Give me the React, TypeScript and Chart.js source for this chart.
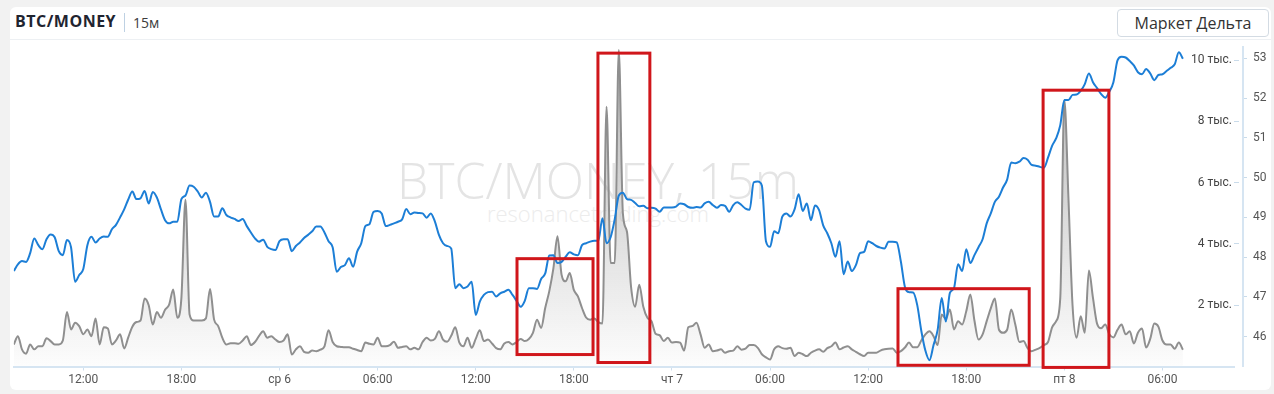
import React, { useEffect, useRef } from 'react';
import { Chart, registerables } from 'chart.js';

Chart.register(...registerables);

// 15-minute candles, Tue 07:45 -> Fri 07:15 (287 points)
const priceValues = [
  47.65, 47.82, 47.90, 47.88, 48.10, 48.47, 48.30, 48.20, 48.45, 48.57,
  48.50, 48.15, 48.05, 48.43, 48.25, 47.38, 47.55, 47.70, 48.30, 48.51,
  48.37, 48.47, 48.52, 48.51, 48.70, 48.81, 49.00, 49.20, 49.45, 49.65,
  49.46, 49.48, 49.66, 49.35, 49.64, 49.50, 49.20, 48.93, 48.85, 48.89,
  48.89, 49.46, 49.55, 49.80, 49.77, 49.65, 49.50, 49.62, 49.39, 49.02,
  49.02, 49.23, 49.06, 49.00, 48.96, 48.91, 48.96, 48.78, 48.62, 48.47,
  48.39, 48.44, 48.26, 48.20, 48.18, 48.40, 48.45, 48.45, 48.15, 48.28,
  48.37, 48.48, 48.56, 48.65, 48.77, 48.77, 48.62, 48.40, 48.25, 47.63,
  47.75, 47.80, 47.97, 47.76, 48.14, 48.35, 48.78, 48.83, 49.14, 49.16,
  49.10, 48.78, 48.81, 48.85, 48.89, 48.95, 49.21, 49.08, 49.12, 49.11,
  49.10, 48.99, 49.10, 48.90, 48.56, 48.35, 48.28, 48.22, 47.22, 47.32,
  47.22, 47.26, 47.38, 46.55, 46.88, 47.05, 47.12, 47.13, 47.01, 47.09,
  47.13, 47.18, 47.05, 46.90, 46.75, 46.90, 47.22, 47.22, 47.20, 47.45,
  47.59, 48.04, 48.05, 47.85, 47.88, 48.01, 48.12, 48.07, 48.05, 48.30,
  48.35, 48.39, 48.41, 48.41, 48.98, 48.35, 48.50, 48.95, 49.55, 49.62,
  49.46, 49.44, 49.36, 49.28, 49.29, 49.23, 49.24, 49.22, 49.14, 49.25,
  49.25, 49.25, 49.27, 49.35, 49.33, 49.26, 49.24, 49.26, 49.25, 49.35,
  49.39, 49.31, 49.24, 49.31, 49.29, 49.14, 49.31, 49.38, 49.31, 49.22,
  49.19, 49.88, 49.90, 49.80, 48.40, 48.26, 48.65, 48.60, 49.02, 49.10,
  49.02, 49.20, 49.58, 49.16, 49.35, 48.93, 49.30, 49.18, 48.80, 48.60,
  48.35, 48.01, 48.40, 47.57, 47.89, 47.65, 47.80, 48.10, 48.13, 48.40,
  48.35, 48.28, 48.24, 48.22, 48.39, 48.39, 48.37, 47.89, 47.25, 47.12,
  47.11, 46.80, 46.15, 45.65, 45.41, 45.79, 46.17, 46.97, 46.38, 47.10,
  47.22, 47.82, 47.65, 48.20, 47.85, 48.05, 48.25, 48.45, 48.85, 49.10,
  49.39, 49.52, 49.75, 49.95, 50.38, 50.36, 50.40, 50.49, 50.45, 50.32,
  50.30, 50.27, 50.25, 50.50, 50.80, 50.99, 51.32, 51.95, 51.95, 52.08,
  52.09, 52.18, 52.35, 52.62, 52.40, 52.25, 52.10, 52.01, 52.16, 52.40,
  52.95, 53.04, 53.02, 52.93, 52.82, 52.65, 52.60, 52.73, 52.62, 52.45,
  52.58, 52.60, 52.68, 52.76, 52.85, 53.15, 52.99,
];

// volume, thousands
const volumeValues = [
  0.72, 0.99, 0.56, 0.42, 0.72, 0.56, 0.66, 0.66, 0.92, 0.83,
  0.72, 0.72, 0.85, 1.78, 1.21, 1.43, 1.32, 1.05, 1.21, 0.99,
  1.57, 0.72, 1.28, 1.24, 0.72, 0.85, 1.05, 0.59, 0.95, 1.30,
  1.45, 1.50, 2.22, 2.00, 1.37, 1.78, 1.59, 1.85, 2.02, 2.51,
  1.59, 2.24, 5.44, 1.70, 1.50, 1.50, 1.50, 1.57, 2.53, 1.53,
  1.32, 0.94, 0.72, 0.76, 0.76, 0.74, 0.85, 0.99, 0.70, 0.80,
  1.00, 1.15, 0.94, 0.99, 0.88, 0.80, 0.85, 1.05, 0.39, 0.56,
  0.66, 0.48, 0.45, 0.52, 0.50, 0.55, 0.66, 1.18, 0.80, 0.66,
  0.64, 0.63, 0.63, 0.58, 0.54, 0.50, 0.78, 0.74, 0.72, 0.94,
  0.66, 0.66, 0.70, 0.81, 0.61, 0.64, 0.66, 0.56, 0.61, 0.56,
  0.80, 0.94, 0.85, 0.90, 1.15, 0.88, 0.81, 1.00, 1.28, 0.78,
  0.66, 0.94, 0.61, 0.90, 1.18, 0.83, 0.88, 0.75, 0.60, 0.56,
  0.75, 0.80, 0.72, 0.80, 0.90, 0.83, 0.90, 1.10, 1.53, 1.26,
  1.91, 2.46, 3.20, 4.25, 3.00, 2.78, 3.05, 2.50, 2.29, 1.91,
  1.60, 1.53, 1.57, 1.45, 1.40, 8.48, 3.38, 3.38, 10.33, 5.00,
  4.40, 2.60, 1.95, 2.67, 1.95, 1.59, 1.48, 1.07, 1.02, 0.83,
  0.94, 0.78, 0.80, 0.78, 0.52, 1.28, 1.32, 1.43, 1.05, 0.61,
  0.72, 0.50, 0.52, 0.56, 0.45, 0.50, 0.52, 0.66, 0.55, 0.58,
  0.70, 0.70, 0.61, 0.40, 0.30, 0.23, 0.56, 0.66, 0.60, 0.58,
  0.61, 0.34, 0.45, 0.40, 0.34, 0.45, 0.52, 0.56, 0.48, 0.60,
  0.66, 0.78, 0.56, 0.62, 0.66, 0.56, 0.48, 0.40, 0.34, 0.45,
  0.45, 0.45, 0.52, 0.56, 0.58, 0.59, 0.45, 0.50, 0.62, 0.78,
  0.63, 0.63, 0.85, 1.05, 1.15, 0.99, 0.70, 1.70, 1.55, 1.86,
  1.21, 1.48, 1.37, 1.80, 2.35, 1.50, 0.88, 1.05, 1.48, 1.90,
  2.22, 1.20, 1.10, 1.20, 1.86, 1.37, 0.80, 0.83, 0.60, 0.50,
  0.55, 0.61, 0.70, 0.80, 1.28, 1.48, 2.24, 8.70, 5.50, 2.00,
  0.94, 1.64, 1.10, 3.13, 2.24, 1.40, 1.25, 1.37, 1.05, 0.95,
  1.20, 1.37, 1.05, 1.15, 0.75, 1.10, 1.24, 0.62, 0.90, 1.40,
  1.30, 0.85, 0.72, 0.72, 0.58, 0.78, 0.55,
];

const xTickIndex = [17, 41, 65, 89, 113, 137, 161, 185, 209, 233, 257, 281];
const xTickLabels = ['12:00', '18:00', 'ср 6', '06:00', '12:00', '18:00', 'чт 7', '06:00', '12:00', '18:00', 'пт 8', '06:00'];
const priceTicks = [46, 47, 48, 49, 50, 51, 52, 53];
const volumeTicks = [2, 4, 6, 8, 10];
const volumeTickLabels = ['2 тыс.', '4 тыс.', '6 тыс.', '8 тыс.', '10 тыс.'];

// highlighted zones (x in candle index, y in volume thousands)
const boxStart = [123.1, 142.9, 216.3, 251.8];
const boxEnd = [141.7, 155.6, 248.4, 267.9];
const boxTop = [3.52, 10.23, 2.54, 9.02];
const boxBottom = [0.39, 0.13, 0.04, -0.03];

const boxesPlugin = {
  id: 'zoneBoxes',
  afterDatasetsDraw(chart: any) {
    const { ctx, scales } = chart;
    const x = scales.x;
    const y1 = scales.y1;
    ctx.save();
    ctx.strokeStyle = '#d0161b';
    ctx.lineWidth = 3;
    for (let k = 0; k < boxStart.length; k++) {
      const l = x.getPixelForValue(boxStart[k]);
      const r = x.getPixelForValue(boxEnd[k]);
      const t = y1.getPixelForValue(boxTop[k]);
      const b = y1.getPixelForValue(boxBottom[k]);
      ctx.strokeRect(l, t, r - l, b - t);
    }
    ctx.restore();
  },
};

const noPad = (s: any) => {
  s.paddingTop = 0;
  s.paddingBottom = 0;
  s.paddingLeft = 0;
  s.paddingRight = 0;
};

export default function App() {
  const ref = useRef<HTMLCanvasElement>(null);

  useEffect(() => {
    const canvas = ref.current;
    if (!canvas) return;
    const fillGrad = (c: any) => {
      const { ctx, chartArea } = c.chart;
      if (!chartArea) return 'rgba(140,140,140,0.2)';
      const g = ctx.createLinearGradient(0, chartArea.top, 0, chartArea.bottom);
      g.addColorStop(0, 'rgba(135,135,135,0.62)');
      g.addColorStop(1, 'rgba(135,135,135,0.02)');
      return g;
    };
    const chart = new Chart(canvas, {
      type: 'line',
      data: {
        datasets: [
          {
            label: 'BTC/MONEY',
            data: priceValues.map((v, i) => ({ x: i, y: v })),
            yAxisID: 'y',
            borderColor: '#1c7ed6',
            borderWidth: 2,
            pointRadius: 0,
            cubicInterpolationMode: 'monotone',
            fill: false,
          },
          {
            label: 'Объём',
            data: volumeValues.map((v, i) => ({ x: i, y: v })),
            yAxisID: 'y1',
            borderColor: '#8f8f8f',
            borderWidth: 2,
            pointRadius: 0,
            cubicInterpolationMode: 'monotone',
            fill: 'origin',
            backgroundColor: fillGrad,
          },
        ],
      },
      options: {
        responsive: false,
        animation: false,
        events: [],
        layout: { padding: { left: 3.8, top: 5, right: 0, bottom: 3 } },
        plugins: { legend: { display: false }, tooltip: { enabled: false } },
        scales: {
          x: {
            type: 'linear',
            position: 'bottom',
            min: 0,
            max: 298.5,
            afterBuildTicks: (s: any) => {
              s.ticks = xTickIndex.map((v) => ({ value: v }));
            },
            afterFit: (s: any) => {
              s.height = 20.5;
              noPad(s);
            },
            ticks: {
              autoSkip: false,
              maxRotation: 0,
              padding: 2,
              color: '#555',
              font: { family: 'Roboto, sans-serif', size: 12 },
              callback: (_v: any, i: number) => xTickLabels[i],
            },
            grid: { drawOnChartArea: false, drawTicks: true, tickLength: 4, color: '#cfdfee' },
            border: { display: true, color: '#d6e5f2', width: 2 },
          },
          y1: {
            type: 'linear',
            position: 'right',
            weight: 0,
            min: 0,
            max: 10.43,
            afterBuildTicks: (s: any) => {
              s.ticks = volumeTicks.map((v) => ({ value: v }));
            },
            afterFit: (s: any) => {
              s.width = 9;
              noPad(s);
            },
            ticks: {
              mirror: true,
              padding: -2,
              color: '#444',
              font: { family: 'Roboto, sans-serif', size: 12 },
              callback: (_v: any, i: number) => volumeTickLabels[i],
            },
            grid: { drawOnChartArea: false, drawTicks: true, tickLength: 5, color: '#c9dbea' },
            border: { display: false },
          },
          y: {
            type: 'linear',
            position: 'right',
            weight: 1,
            min: 45.25,
            max: 53.284,
            afterBuildTicks: (s: any) => {
              s.ticks = priceTicks.map((v) => ({ value: v }));
            },
            afterFit: (s: any) => {
              s.width = 25;
              noPad(s);
            },
            ticks: {
              padding: 6,
              color: '#555',
              font: { family: 'Roboto, sans-serif', size: 12 },
              callback: (v: any) => String(v),
            },
            grid: { drawOnChartArea: false, drawTicks: true, tickLength: 4, color: '#c9dbea' },
            border: { display: true, color: '#d6e5f2', width: 2 },
          },
        },
      } as any,
      plugins: [boxesPlugin],
    });
    return () => chart.destroy();
  }, []);

  const font = '"Open Sans", "DejaVu Sans", sans-serif';

  return (
    <div style={{ position: 'fixed', left: 0, top: 0, width: 1274, height: 394, background: '#f2f2f2', overflow: 'hidden', fontFamily: font }}>
      <div style={{ position: 'absolute', left: 10, top: 7, width: 1261, height: 383, background: '#fff', borderRadius: 6 }} />
      <div style={{ position: 'absolute', left: 10, top: 39, width: 1261, height: 1, background: '#edf0f3' }} />
      <div style={{ position: 'absolute', left: 15, top: 13, fontSize: 16, lineHeight: '16px', fontWeight: 700, letterSpacing: 0.5, color: '#1f2430', whiteSpace: 'nowrap' }}>BTC/MONEY</div>
      <div style={{ position: 'absolute', left: 124, top: 13, width: 1, height: 19, background: '#bed1e3' }} />
      <div style={{ position: 'absolute', left: 133, top: 15.5, fontSize: 14, lineHeight: '14px', color: '#3c3c3c', whiteSpace: 'nowrap' }}>15м</div>
      <div style={{ position: 'absolute', left: 1117, top: 9, width: 150, height: 26, border: '1px solid #d3dbe3', borderRadius: 4, boxSizing: 'content-box', display: 'flex', alignItems: 'center', justifyContent: 'center', fontSize: 16, color: '#333', whiteSpace: 'nowrap' }}>Маркет Дельта</div>
      <div style={{ position: 'absolute', left: 198, top: 155, width: 800, textAlign: 'center', fontSize: 50, lineHeight: '50px', fontWeight: 300, color: '#e4e4e4', whiteSpace: 'nowrap' }}>BTC/MONEY, 15m</div>
      <div style={{ position: 'absolute', left: 198, top: 202, width: 800, textAlign: 'center', fontSize: 22, lineHeight: '22px', fontWeight: 300, color: '#ececec', whiteSpace: 'nowrap' }}>resonancetrading.com</div>
      <div style={{ position: 'absolute', left: 10, top: 42, width: 1258, height: 348 }}>
        <canvas ref={ref} width={1258} height={348} style={{ display: 'block', width: 1258, height: 348 }} />
      </div>
    </div>
  );
}
